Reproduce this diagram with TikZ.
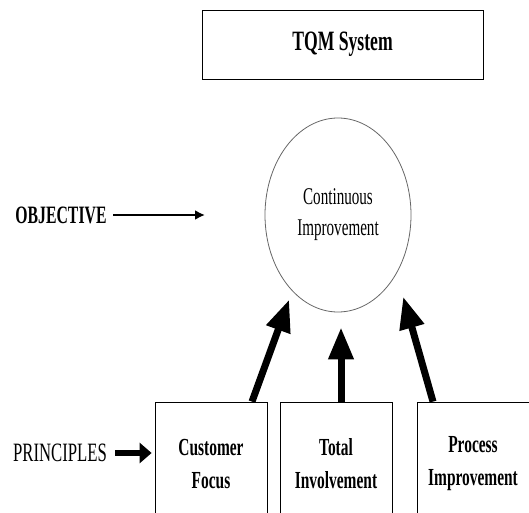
\documentclass[tikz,border=0pt]{standalone}
\usepackage{fontspec}
\setmainfont{Liberation Serif}[FakeStretch=0.63]
\usepackage{tikz}
\usetikzlibrary{arrows.meta,calc,shapes.geometric}

\begin{document}
\begin{tikzpicture}[x=1pt,y=1pt,
box/.style={draw,line width=0.8pt,minimum width=112pt,minimum height=124pt,align=center,font=\fontsize{24.5}{33}\selectfont\bfseries},
fat/.style={line width=7pt,-{Triangle[length=32pt,width=24pt]}}]
\clip (0,0) rectangle (529,512);
\node[draw,line width=0.8pt,minimum width=281pt,minimum height=69pt,font=\fontsize{28}{34}\selectfont\bfseries] (tqm) at (342.5,467.5) {TQM System};
\node[ellipse,draw=black!60,line width=0.8pt,minimum width=146pt,minimum height=194pt,align=center,font=\fontsize{24}{31}\selectfont] (goal) at (338,297) {Continuous\\Improvement};
\node[font=\fontsize{25}{30}\selectfont\bfseries] (objective) at (61,297) {OBJECTIVE};
\coordinate (objtip) at (205,297);
\draw[line width=2pt,-{Latex[length=10pt,width=10pt]},shorten <=3pt] (objective) -- (objtip);
\node[box] (cust) at (211,48) {Customer\\Focus};
\node[box] (total) at (336,48) {Total\\Involvement};
\node[box,minimum width=124pt] (proc) at (479,48) {};
\node[font=\fontsize{24.5}{33}\selectfont\bfseries,align=center] (proctext) at (473,48) {Process\\Improvement};
\node[font=\fontsize{26.5}{30}\selectfont] (principles) at (60,59) {PRINCIPLES};
\draw[line width=6pt,-{Triangle[length=12pt,width=20pt]},shorten <=5pt,shorten >=3pt] (principles.east) -- (principles.east -| cust.west);
\draw[fat,shorten >=9pt] ([xshift=41pt]cust.north) -- (goal.239.5);
\draw[fat,shorten >=15pt] ([xshift=5pt]total.north) -- ([xshift=3pt]goal.south);
\draw[fat,shorten >=24pt] ([xshift=-46pt]proc.north) -- (goal.315.5);
\end{tikzpicture}
\end{document}
